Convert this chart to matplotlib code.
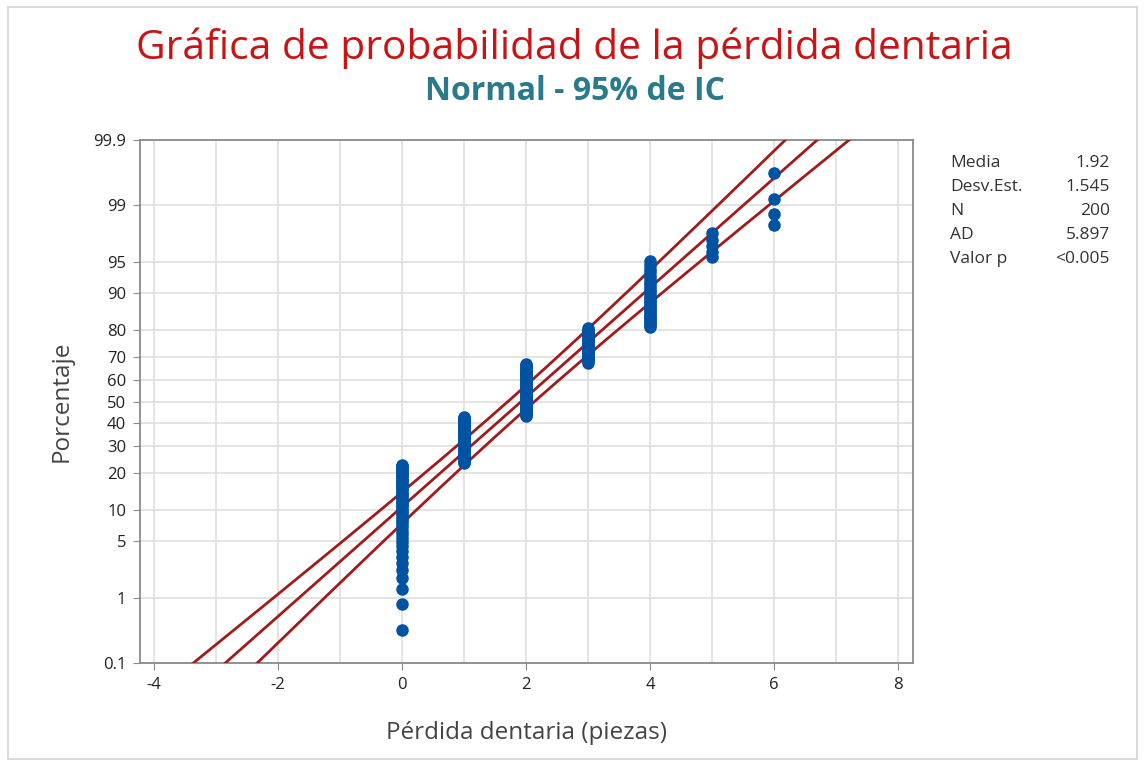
"""Normal probability plot of tooth loss (Minitab-style), 95% CI bands."""

from statistics import NormalDist

import matplotlib
matplotlib.use("Agg")
import matplotlib.pyplot as plt
import numpy as np
from matplotlib.patches import Rectangle
from matplotlib.ticker import NullLocator

plt.rcParams["font.family"] = ["Open Sans", "DejaVu Sans"]
plt.rcParams["axes.unicode_minus"] = False

# observed values and how many of the 200 patients had each
values = [0, 1, 2, 3, 4, 5, 6]
counts = [46, 40, 49, 27, 29, 5, 4]

# summary shown in the right-hand box
stat_names = ["Media", "Desv.Est.", "N", "AD", "Valor p"]
stat_values = ["1.92", "1.545", "200", "5.897", "<0.005"]
mean, sd, n = 1.92, 1.545, 200

y_ticks = [0.1, 1, 5, 10, 20, 30, 40, 50, 60, 70, 80, 90, 95, 99, 99.9]
y_tick_labels = ["0.1", "1", "5", "10", "20", "30", "40", "50", "60", "70",
                 "80", "90", "95", "99", "99.9"]
x_ticks = [-4, -2, 0, 2, 4, 6, 8]

ND = NormalDist()
_ppf = np.vectorize(ND.inv_cdf, otypes=[float])
_cdf = np.vectorize(ND.cdf, otypes=[float])


def fwd(p):
    p = np.clip(np.asarray(p, dtype=float) / 100.0, 1e-9, 1 - 1e-9)
    return _ppf(p)


def inv(z):
    return _cdf(np.asarray(z, dtype=float)) * 100.0


# raw observations -> median-rank plotting positions
obs = np.repeat(values, counts)
ranks = np.arange(1, len(obs) + 1)
pct = (ranks - 0.3) / (len(obs) + 0.4) * 100

# fitted line and 95% confidence band
p_line = np.linspace(0.05, 99.95, 400)
z_line = fwd(p_line)
x_fit = mean + z_line * sd
half = 1.96 * sd * np.sqrt(1 / n + z_line ** 2 / (2 * n))

fig = plt.figure(figsize=(11.45, 7.65), dpi=100)
fig.patches.append(Rectangle((8 / 1145, 6 / 765), 1129 / 1145, 752 / 765,
                             transform=fig.transFigure, fill=False,
                             edgecolor="#d4d4d4", lw=1.2))

ax = fig.add_axes([140 / 1145, 1 - 663 / 765, 773 / 1145, 523 / 765])
ax.set_yscale("function", functions=(fwd, inv))

red = "#a01c1c"
for xs in (x_fit - half, x_fit, x_fit + half):
    ax.plot(xs, p_line, color=red, lw=2.0, zorder=3)

ax.plot(obs, pct, "o", color="#0052a3", ms=8, mec="#0052a3", zorder=4)

ax.set_xlim(-4.23, 8.24)
ax.set_ylim(0.1, 99.9)
ax.set_yticks(y_ticks)
ax.set_yticklabels(y_tick_labels)
ax.yaxis.set_minor_locator(NullLocator())
ax.set_xticks(x_ticks)
ax.set_xticks(range(-4, 9), minor=True)

ax.grid(True, which="both", color="#e2e2e2", lw=1.3, zorder=0)
ax.set_axisbelow(True)
for s in ax.spines.values():
    s.set_color("#8a8a8a")
    s.set_linewidth(1.3)
ax.tick_params(which="major", direction="out", length=5, color="#8a8a8a",
               labelsize=12, labelcolor="#222222", pad=5)
ax.tick_params(which="minor", length=0)

ax.set_xlabel("Pérdida dentaria (piezas)", fontsize=17.5, color="#444444",
              labelpad=20)
ax.set_ylabel("Porcentaje", fontsize=17.5, color="#444444", labelpad=14)

fig.text(0.502, 1 - 48 / 765, "Gráfica de probabilidad de la pérdida dentaria",
         ha="center", va="center", fontsize=29.3, color="#c81414")
fig.text(0.502, 1 - 92 / 765, "Normal - 95% de IC", ha="center", va="center",
         fontsize=23, fontweight="bold", color="#2a7a8c")

for i, (name, val) in enumerate(zip(stat_names, stat_values)):
    y = 1 - (163 + 24 * i) / 765
    fig.text(950 / 1145, y, name, ha="left", va="center", fontsize=12.5,
             color="#333333")
    fig.text(1110 / 1145, y, val, ha="right", va="center", fontsize=12.5,
             color="#333333")

fig.savefig("out.png", dpi=100)
